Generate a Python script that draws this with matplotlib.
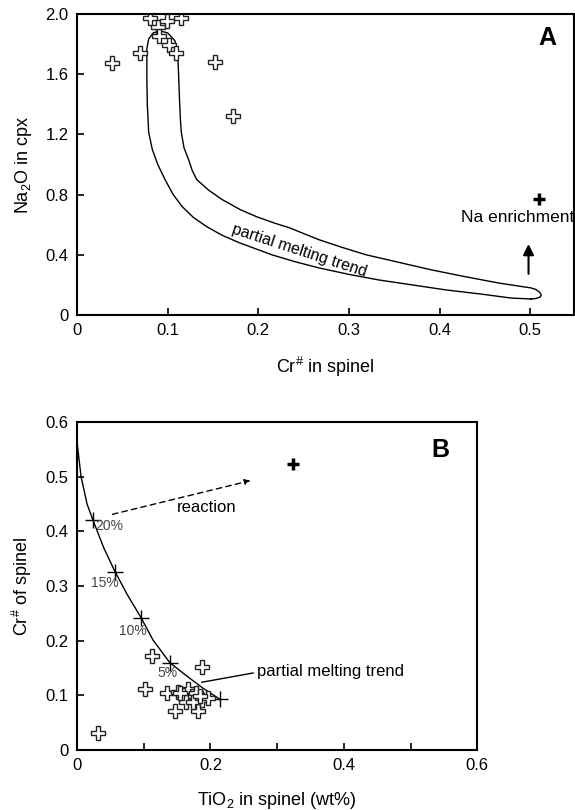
import numpy as np
import matplotlib
matplotlib.use("Agg")
import matplotlib.pyplot as plt
from matplotlib import rc

rc('font', family=['Liberation Sans', 'DejaVu Sans'])
rc('mathtext', default='regular')

# ---- panel A data: Cr# in spinel vs Na2O in cpx ----
crA = [0.039, 0.069, 0.081, 0.089, 0.090, 0.099, 0.115, 0.101, 0.109, 0.152, 0.172]
naA = [1.67, 1.74, 1.97, 1.91, 1.85, 1.95, 1.97, 1.79, 1.74, 1.68, 1.32]
crA_bold = [0.510]
naA_bold = [0.773]

# outline of the partial melting field (closed loop)
env_x = [0.501, 0.479, 0.445, 0.407, 0.370, 0.333, 0.300, 0.267, 0.240, 0.215,
         0.197, 0.179, 0.160, 0.143, 0.128, 0.116, 0.106, 0.097, 0.089, 0.083,
         0.079, 0.0775, 0.077, 0.077, 0.079, 0.084, 0.091, 0.100, 0.108, 0.111,
         0.112, 0.113, 0.114, 0.115, 0.118, 0.123, 0.127, 0.132, 0.145, 0.160,
         0.180, 0.198, 0.218, 0.234, 0.267, 0.292, 0.319, 0.355, 0.391, 0.428,
         0.465, 0.501, 0.506, 0.510, 0.512, 0.511, 0.506, 0.501]
env_y = [0.107, 0.113, 0.140, 0.167, 0.200, 0.233, 0.270, 0.313, 0.355, 0.400,
         0.440, 0.480, 0.530, 0.587, 0.650, 0.720, 0.800, 0.900, 1.000, 1.100,
         1.213, 1.400, 1.567, 1.767, 1.833, 1.873, 1.887, 1.873, 1.820, 1.733,
         1.600, 1.433, 1.300, 1.213, 1.110, 1.033, 0.960, 0.900, 0.830, 0.767,
         0.700, 0.653, 0.610, 0.580, 0.500, 0.450, 0.400, 0.350, 0.300, 0.255,
         0.213, 0.180, 0.170, 0.153, 0.135, 0.120, 0.110, 0.107]

# ---- panel B data: TiO2 in spinel vs Cr# of spinel ----
tiB = [0.031, 0.112, 0.187, 0.102, 0.135, 0.147, 0.181, 0.152, 0.167, 0.159,
       0.172, 0.179, 0.187, 0.197, 0.164, 0.174, 0.184, 0.154]
crB = [0.031, 0.172, 0.152, 0.112, 0.104, 0.071, 0.071, 0.107, 0.111, 0.101,
       0.098, 0.104, 0.091, 0.095, 0.088, 0.088, 0.098, 0.104]
tiB_bold = [0.324]
crB_bold = [0.523]

# melting model curve and the percent marks on it
melt_ti = [0.0, 0.006, 0.015, 0.024, 0.040, 0.057, 0.075, 0.096, 0.114, 0.139, 0.165, 0.189, 0.214]
melt_cr = [0.563, 0.500, 0.450, 0.420, 0.370, 0.326, 0.285, 0.242, 0.201, 0.160, 0.135, 0.113, 0.093]
mark_ti = [0.024, 0.057, 0.096, 0.139, 0.214]
mark_cr = [0.420, 0.326, 0.242, 0.160, 0.093]
pct_labels = ['20%', '15%', '10%', '5%']
pct_x = [0.049, 0.042, 0.084, 0.135]
pct_y = [0.410, 0.305, 0.218, 0.141]


def style(ax):
    ax.tick_params(axis='both', which='both', direction='in', labelsize=12,
                   length=5, width=1.2, pad=6)
    for s in ax.spines.values():
        s.set_linewidth(1.5)


fig = plt.figure(figsize=(5.75, 8.1), dpi=100)
axA = fig.add_axes([0.134, 0.611, 0.864, 0.372])
axB = fig.add_axes([0.134, 0.074, 0.696, 0.405])

hollow = dict(marker='P', linestyle='none', markersize=9.5, markerfacecolor='white',
              markeredgecolor='#222222', markeredgewidth=1.0)

# panel A
axA.plot(env_x, env_y, color='black', lw=1.0, solid_joinstyle='round')
axA.plot(crA, naA, **hollow)
axA.plot(crA_bold, naA_bold, marker='+', linestyle='none', color='black',
         markersize=9, markeredgewidth=2.5)
axA.annotate('', xy=(0.498, 0.49), xytext=(0.498, 0.255),
             arrowprops=dict(arrowstyle='-|>', color='black', lw=1.5, mutation_scale=16))
axA.text(0.486, 0.648, 'Na enrichment', fontsize=12.5, ha='center', va='center')
axA.text(0.245, 0.43, 'partial melting trend', fontsize=11.5, ha='center', va='center',
         rotation=-18)
axA.text(0.965, 0.92, 'A', transform=axA.transAxes, fontsize=18, fontweight='bold',
         ha='right', va='center')
axA.set_xlim(0, 0.548)
axA.set_ylim(0, 2.0)
axA.set_xticks([0, 0.1, 0.2, 0.3, 0.4, 0.5])
axA.set_xticklabels(['0', '0.1', '0.2', '0.3', '0.4', '0.5'])
axA.set_yticks([0, 0.4, 0.8, 1.2, 1.6, 2.0])
axA.set_yticklabels(['0', '0.4', '0.8', '1.2', '1.6', '2.0'])
axA.set_xlabel(r'Cr$^{\#}$ in spinel', fontsize=13, labelpad=12)
axA.set_ylabel(r'Na$_2$O in cpx', fontsize=13, labelpad=8)
style(axA)

# panel B
axB.plot(melt_ti, melt_cr, color='black', lw=1.0)
axB.plot(mark_ti, mark_cr, marker='+', linestyle='none', color='black',
         markersize=11, markeredgewidth=1.0)
for lab, x, y in zip(pct_labels, pct_x, pct_y):
    axB.text(x, y, lab, fontsize=10, color='#444444', ha='center', va='center')
axB.plot(tiB, crB, **hollow)
axB.plot(tiB_bold, crB_bold, marker='+', linestyle='none', color='black',
         markersize=9, markeredgewidth=2.5)
axB.annotate('', xy=(0.264, 0.494), xytext=(0.049, 0.43),
             arrowprops=dict(arrowstyle='-|>', color='black', lw=1.0,
                             linestyle=(0, (4, 3)), mutation_scale=8))
axB.text(0.195, 0.444, 'reaction', fontsize=12, ha='center', va='center')
axB.plot([0.187, 0.264], [0.124, 0.141], color='black', lw=1.0)
axB.text(0.27, 0.143, 'partial melting trend', fontsize=12, ha='left', va='center')
axB.text(0.93, 0.915, 'B', transform=axB.transAxes, fontsize=18, fontweight='bold',
         ha='right', va='center')
axB.set_xlim(0, 0.6)
axB.set_ylim(0, 0.6)
axB.set_xticks([0, 0.1, 0.2, 0.3, 0.4, 0.5, 0.6])
axB.set_xticklabels(['0', '', '0.2', '', '0.4', '', '0.6'])
axB.set_yticks([0, 0.1, 0.2, 0.3, 0.4, 0.5, 0.6])
axB.set_yticklabels(['0', '0.1', '0.2', '0.3', '0.4', '0.5', '0.6'])
axB.set_xlabel(r'TiO$_2$ in spinel (wt%)', fontsize=13, labelpad=12)
axB.set_ylabel(r'Cr$^{\#}$ of spinel', fontsize=13, labelpad=8)
style(axB)

plt.savefig('out.png', dpi=100)
